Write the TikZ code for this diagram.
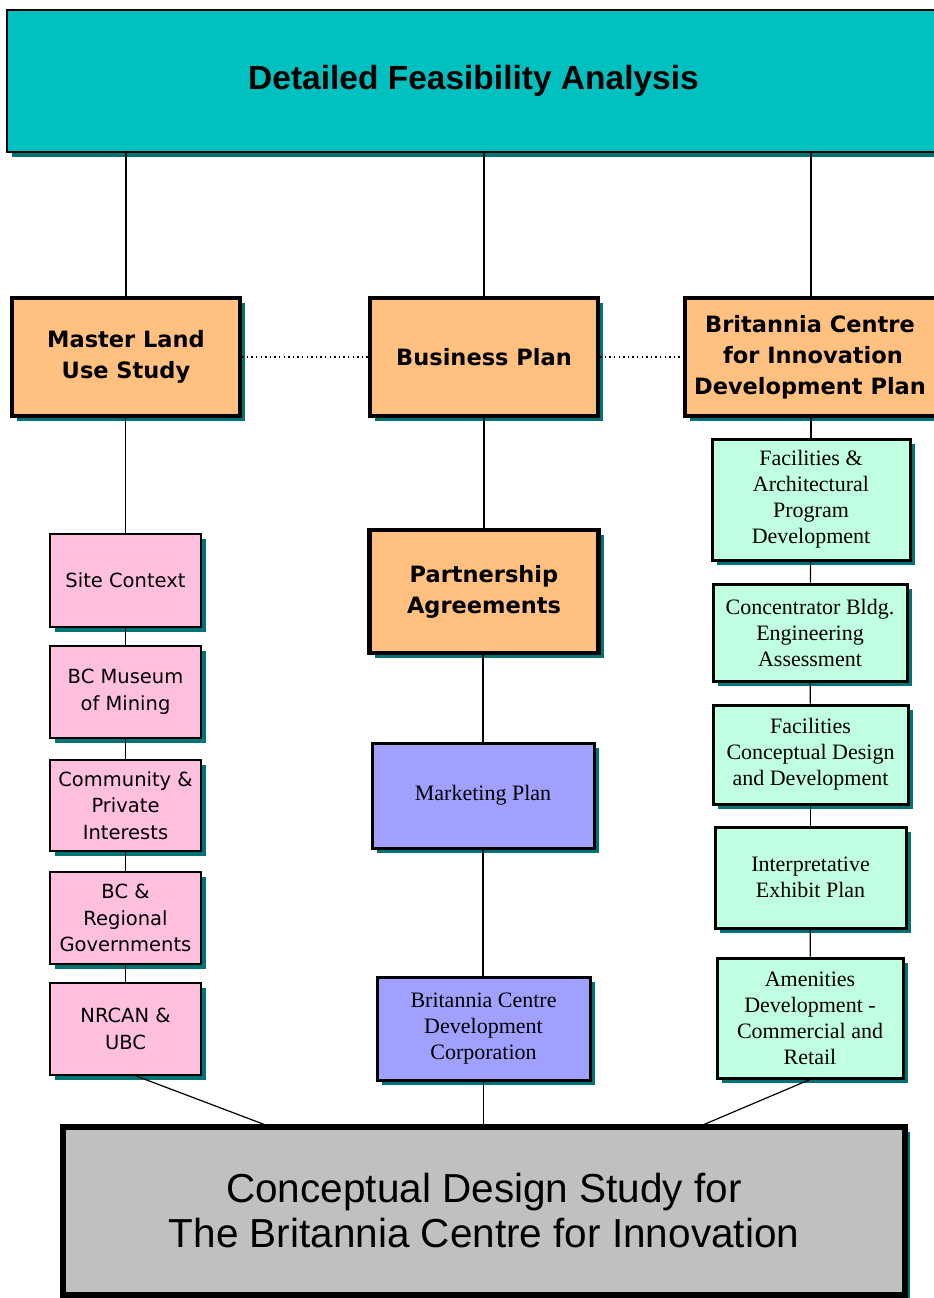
\documentclass[tikz,border=0pt]{standalone}
\usepackage{fontspec}
\setmainfont{Liberation Serif}
\setsansfont{Liberation Sans}
\newfontfamily\verdana{DejaVu Sans}
\usepackage{tikz}
\usetikzlibrary{shadows}
\definecolor{Tuerkis}{HTML}{00C0C0}
\definecolor{Schatten}{HTML}{007474}
\definecolor{Orange}{HTML}{FFC080}
\definecolor{Rosa}{HTML}{FFC0E0}
\definecolor{Mint}{HTML}{C0FFE0}
\definecolor{Lila}{HTML}{A0A0FF}
\definecolor{Grau}{HTML}{C0C0C0}
\tikzset{
  Kasten/.style={draw=black, align=center, inner sep=0pt,
    drop shadow={shadow xshift=5pt, shadow yshift=-5pt, fill=Schatten, opacity=1},
    minimum width=#1}, % alle Kaesten
  Haupt/.style={Kasten=#1, fill=Orange, line width=4.5pt,
    font={\verdana\bfseries\fontsize{22.5}{31}\selectfont}}, % orange Kaesten
  Rosa/.style={Kasten=#1, fill=Rosa, line width=1.5pt,
    font={\verdana\fontsize{19.5}{26.5}\selectfont}}, % linke Spalte
  Mint/.style={Kasten=#1, fill=Mint, line width=3pt,
    font={\rmfamily\fontsize{22}{26}\selectfont}}, % rechte Spalte
  Lila/.style={Kasten=#1, fill=Lila, line width=3pt,
    font={\rmfamily\fontsize{22}{26}\selectfont}}, % mittlere Spalte
  Linie/.style={draw, line width=1.2pt},
  Punkte/.style={Linie, dash pattern=on 1.4pt off 3.2pt} % gepunktete Querlinien
}
\begin{document}
\begin{tikzpicture}[x=1pt, y=-1pt]
\useasboundingbox (0,0) rectangle (934,1298);

%Kopf
\node[Kasten=931pt, fill=Tuerkis, line width=1.5pt, minimum height=142pt,
  font={\sffamily\bfseries\fontsize{33.5}{40}\selectfont}]
  (Analyse) at (472.5,81) {\hspace*{2pt}Detailed Feasibility Analysis};

%Hauptkaesten
\node[Haupt=228pt, minimum height=118pt] (Land) at (126,357) {Master Land\\Use Study};
\node[Haupt=228pt, minimum height=118pt] (Business) at (484,357) {Business Plan};
\node[Haupt=256pt, minimum height=118pt] (Zentrum) at (813,357)
  {Britannia Centre\hspace*{6pt}\\for Innovation\hspace*{6pt}\\Development Plan\hspace*{6pt}};
\node[Haupt=229pt, minimum height=123pt] (Partner) at (484,591.5) {Partnership\\Agreements};

%linke Spalte
\node[Rosa=151pt, minimum height=93pt] (Site) at (125.5,580.5) {Site Context};
\node[Rosa=151pt, minimum height=92pt] (Museum) at (125.5,692) {BC Museum\\of Mining};
\node[Rosa=151pt, minimum height=91pt] (Community) at (125.5,805.5) {Community \&\\Private\\Interests};
\node[Rosa=151pt, minimum height=92pt] (Regional) at (125.5,918) {BC \&\\Regional\\Governments};
\node[Rosa=151pt, minimum height=92pt] (Nrcan) at (125.5,1029) {NRCAN \&\\UBC};

%mittlere Spalte
\node[Lila=222pt, minimum height=105pt] (Marketing) at (483,795.5) {Marketing Plan};
\node[Lila=213pt, minimum height=103pt] (Corp) at (483.5,1028.5) {Britannia Centre\\Development\\Corporation};

%rechte Spalte
\node[Mint=198pt, minimum height=121pt] (Arch) at (811,499.5) {Facilities \&\\Architectural\\Program\\Development};
\node[Mint=194pt, minimum height=97pt] (Konz) at (810,632.5) {Concentrator Bldg.\\Engineering\\Assessment};
\node[Mint=195pt, minimum height=99pt] (Design) at (810.5,754.5) {Facilities\\Conceptual Design\\and Development};
\node[Mint=191pt, minimum height=101pt] (Exhibit) at (810.5,877.5) {Interpretative\\Exhibit Plan};
\node[Mint=186pt, minimum height=120pt] (Amen) at (810,1018) {Amenities\\Development -\\Commercial and\\Retail};

%Fuss
\node[Kasten=842pt, fill=Grau, line width=6.5pt, minimum height=168pt,
  font={\sffamily\fontsize{40.5}{45}\selectfont}]
  (Studie) at (484,1211) {Conceptual Design Study for\\The Britannia Centre for Innovation};
\coordinate (SL) at (271,1127);
\coordinate (SR) at (698,1127);

%Linien
\draw[Linie] (Analyse.south -| Land.north) -- (Land.north);
\draw[Linie] (Analyse.south -| Business.north) -- (Business.north);
\draw[Linie] (Analyse.south -| Arch.north) -- (Zentrum.north -| Arch.north);
\draw[Punkte] (Land.east) -- (Business.west);
\draw[Punkte] (Business.east) -- (Zentrum.west);

\draw[Linie] (Land.south -| Site.north) -- (Site.north);
\draw[Linie] (Site) -- (Museum);
\draw[Linie] (Museum) -- (Community);
\draw[Linie] (Community) -- (Regional);
\draw[Linie] (Regional) -- (Nrcan);

\draw[Linie] (Business) -- (Partner);
\draw[Linie] (Partner.south -| Marketing.north) -- (Marketing.north);
\draw[Linie] (Marketing.south) -- (Marketing.south |- Corp.north);
\draw[Linie] (Corp.south) -- (Corp.south |- Studie.north);

\draw[Linie] (Zentrum.south -| Arch.north) -- (Arch.north);
\draw[Linie] (Arch) -- (Konz);
\draw[Linie] (Konz) -- (Design);
\draw[Linie] (Design) -- (Exhibit);
\draw[Linie] (Exhibit) -- (Amen);

\draw[Linie] ([xshift=10pt]Nrcan.south) -- (SL);
\draw[Linie] (Amen.south) -- (SR);
\end{tikzpicture}
\end{document}
